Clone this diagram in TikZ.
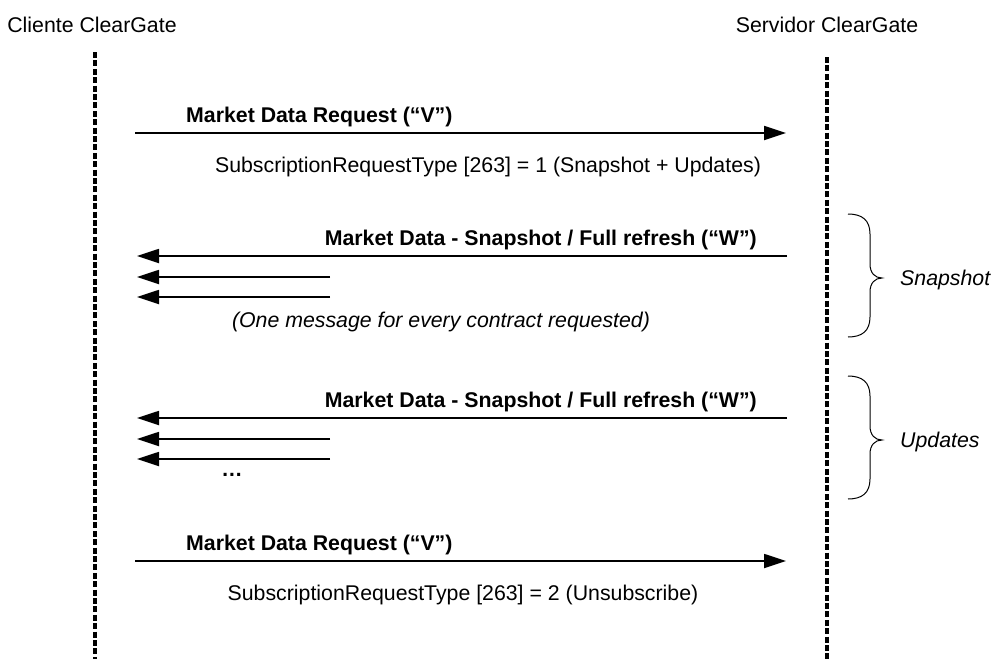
\documentclass[tikz,border=0pt]{standalone}
\usepackage{fontspec}
\setmainfont{Liberation Sans}
\usetikzlibrary{arrows.meta}
\tikzset{
  lifeline/.style={line width=3.4pt, dash pattern=on 6pt off 2.4pt},
  msg/.style={line width=1.8pt, -{Triangle[length=22pt,width=14pt]}},
  lbl/.style={font=\fontsize{21.3}{24}\selectfont\bfseries, inner sep=0pt},
  txt/.style={font=\fontsize{21.3}{24}\selectfont, inner sep=0pt},
  itxt/.style={font=\fontsize{21.3}{24}\selectfont\itshape, inner sep=0pt},
  bracel/.style={line width=1pt},
}
\begin{document}
\begin{tikzpicture}[x=1pt,y=-1pt]
\path[use as bounding box] (0,0) rectangle (993,659);

% headers
\node[txt, anchor=base] (cli) at (92,32) {Cliente ClearGate};
\node[txt, anchor=base] (srv) at (827,32) {Servidor ClearGate};

% lifelines
\coordinate (cT) at (95,52);  \coordinate (cB) at (95,659);
\coordinate (sT) at (827,57); \coordinate (sB) at (827,659);
\draw[lifeline] (cT) -- (cB);
\draw[lifeline] (sT) -- (sB);

% block 1
\coordinate (a1s) at (135,133); \coordinate (a1e) at (786,133);
\draw[msg] (a1s) -- (a1e);
\node[lbl, anchor=base west] (l1) at (186,122) {Market Data Request (“V”)};
\node[txt, anchor=base] (s1) at (488,172) {SubscriptionRequestType [263] = 1 (Snapshot + Updates)};

% block 2
\coordinate (b1s) at (787,256); \coordinate (b1e) at (137,256);
\coordinate (b2s) at (330,277); \coordinate (b2e) at (137,277);
\coordinate (b3s) at (330,297); \coordinate (b3e) at (137,297);
\draw[msg] (b1s) -- (b1e);
\draw[msg] (b2s) -- (b2e);
\draw[msg] (b3s) -- (b3e);
\node[lbl, anchor=base east] (l2) at (757,245) {Market Data - Snapshot / Full refresh (“W”)};
\node[itxt, anchor=base] (n2) at (441,327) {(One message for every contract requested)};

% block 3
\coordinate (c1s) at (787,418); \coordinate (c1e) at (137,418);
\coordinate (c2s) at (330,439); \coordinate (c2e) at (137,439);
\coordinate (c3s) at (330,459); \coordinate (c3e) at (137,459);
\draw[msg] (c1s) -- (c1e);
\draw[msg] (c2s) -- (c2e);
\draw[msg] (c3s) -- (c3e);
\node[lbl, anchor=base east] (l3) at (757,407) {Market Data - Snapshot / Full refresh (“W”)};
\node[lbl, anchor=base] (dots) at (232,476) {…};

% block 4
\coordinate (d1s) at (135,561); \coordinate (d1e) at (786,561);
\draw[msg] (d1s) -- (d1e);
\node[lbl, anchor=base west] (l4) at (186,550) {Market Data Request (“V”)};
\node[txt, anchor=base] (s4) at (463,600) {SubscriptionRequestType [263] = 2 (Unsubscribe)};

% braces
\draw[bracel] (848,214) .. controls (862,214) and (870,220) .. (870,234) -- (870,264)
  .. controls (870,273) and (875,278) .. (882,278)
  .. controls (875,278) and (870,283) .. (870,292) -- (870,317)
  .. controls (870,331) and (862,337) .. (848,337);
\node[itxt, anchor=base west] (snap) at (900,285) {Snapshot};

\draw[bracel] (848,376) .. controls (862,376) and (870,382) .. (870,396) -- (870,426)
  .. controls (870,435) and (875,440) .. (882,440)
  .. controls (875,440) and (870,445) .. (870,454) -- (870,479)
  .. controls (870,493) and (862,499) .. (848,499);
\node[itxt, anchor=base west] (upd) at (900,447) {Updates};
\end{tikzpicture}
\end{document}
